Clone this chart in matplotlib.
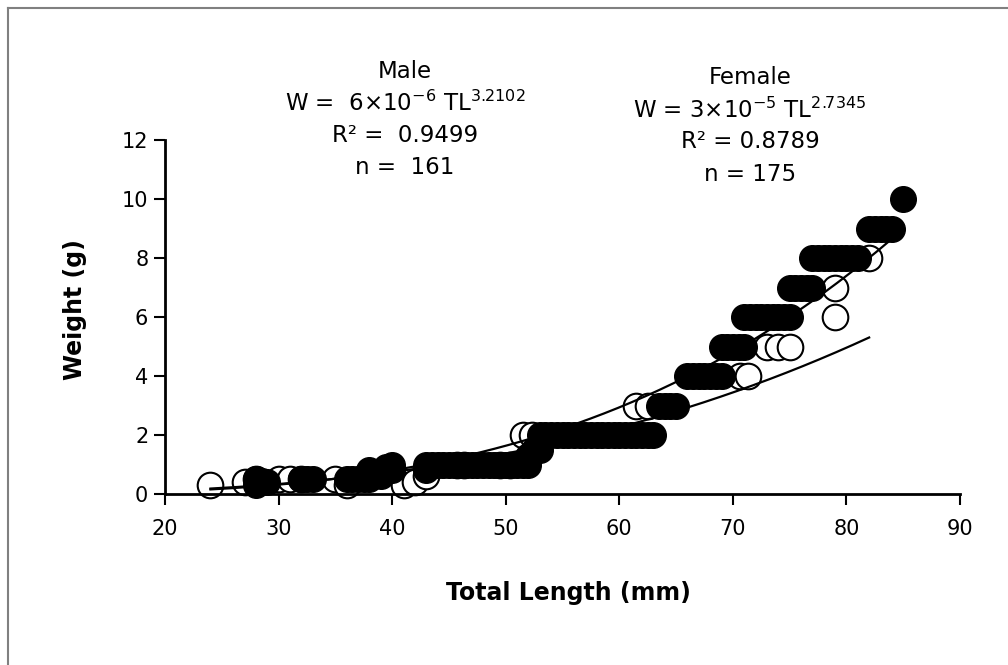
import matplotlib
matplotlib.use("Agg")
import matplotlib.pyplot as plt
from matplotlib.lines import Line2D
import numpy as np

plt.rcParams['font.family'] = ['DejaVu Sans']
plt.rcParams['mathtext.fontset'] = 'dejavusans'

# filled circles (upper curve)
filled_x = [28, 28, 28.5, 29, 32, 32.5, 33, 36, 36.5, 37, 37.5, 38, 38, 39, 39.5, 40, 40,
            43, 43, 43.5, 44, 44.5, 45, 45.5, 46, 46.5, 47, 47.5, 48, 48.5, 49, 49.5,
            50, 50.5, 51, 51.5, 52, 52, 52.5, 53,
            53, 53.5, 54, 54.5, 55, 55.5, 56, 56.5, 57, 57.5, 58, 58.5, 59, 59.5,
            60, 60.5, 61, 61.5, 62, 62.5, 63,
            63.5, 64, 64.5, 65,
            66, 66.5, 67, 67.5, 68, 68.5, 69,
            69, 69.5, 70, 70.5, 71,
            71, 71.5, 72, 72.5, 73, 73.5, 74, 74.5, 75,
            75, 75.5, 76, 76.5, 77,
            77, 77.5, 78, 78.5, 79, 79.5, 80, 80.5, 81,
            82, 82.5, 83, 83.5, 84,
            85]
filled_y = [0.3, 0.5, 0.45, 0.4, 0.5, 0.5, 0.5, 0.5, 0.5, 0.5, 0.5, 0.5, 0.8, 0.6, 0.9, 1.0, 0.8,
            0.8, 1, 1, 1, 1, 1, 1, 1, 1, 1, 1, 1, 1, 1, 1,
            1, 1, 1, 1, 1, 1.3, 1.5, 1.5,
            2, 2, 2, 2, 2, 2, 2, 2, 2, 2, 2, 2, 2, 2,
            2, 2, 2, 2, 2, 2, 2,
            3, 3, 3, 3,
            4, 4, 4, 4, 4, 4, 4,
            5, 5, 5, 5, 5,
            6, 6, 6, 6, 6, 6, 6, 6, 6,
            7, 7, 7, 7, 7,
            8, 8, 8, 8, 8, 8, 8, 8, 8,
            9, 9, 9, 9, 9,
            10]

# open circles (lower curve)
open_x = [24, 27, 28, 30, 31, 32, 35, 36, 41, 42, 43,
          45.7, 46.3, 49.5, 50.4, 51.5, 52.3, 61.5, 62.5,
          70.6, 71.3, 73, 74, 75, 79, 79, 82]
open_y = [0.3, 0.4, 0.5, 0.5, 0.5, 0.5, 0.5, 0.3, 0.3, 0.4, 0.6,
          1, 1, 1, 1, 2, 2, 3, 3,
          4, 4, 5, 5, 5, 6, 7, 8]

# power fits W = a * TL^b
male_a, male_b, male_range = 5.75e-6, 3.2102, (24, 84)
female_a, female_b, female_range = 3.1e-5, 2.7345, (24, 82)

W, H = 1008, 665
fig = plt.figure(figsize=(W / 100, H / 100), dpi=100)
ax = fig.add_axes([165 / W, 1 - 494 / H, (960 - 165) / W, (494 - 140) / H])

ax.scatter(open_x, open_y, s=340, facecolor='white', edgecolor='black',
           linewidth=1.5, zorder=2, clip_on=False)

for a, b, (x0, x1) in [(male_a, male_b, male_range), (female_a, female_b, female_range)]:
    xx = np.linspace(x0, x1, 200)
    ax.plot(xx, a * xx ** b, color='black', lw=1.6, zorder=3)

ax.scatter(filled_x, filled_y, s=340, facecolor='black', edgecolor='black',
           linewidth=1.0, zorder=4, clip_on=False)

ax.set_xlim(20, 90)
ax.set_ylim(0, 12)
ax.set_xticks(range(20, 91, 10))
ax.set_yticks(range(0, 13, 2))
ax.tick_params(direction='out', length=8, width=1.5, labelsize=15, pad=4)
ax.tick_params(axis='x', pad=10)
for s in ['top', 'right']:
    ax.spines[s].set_visible(False)
for s in ['left', 'bottom']:
    ax.spines[s].set_linewidth(2)
    ax.spines[s].set_zorder(5)

fig.text(75 / W, 1 - 310 / H, 'Weight (g)', rotation=90, ha='center', va='center',
         fontsize=17, fontweight='bold')
fig.text(568 / W, 1 - 593 / H, 'Total Length (mm)', ha='center', va='center',
         fontsize=17, fontweight='bold')

male_lines = ['Male', 'W =  6×10$^{-6}$ TL$^{3.2102}$',
              'R² =  0.9499', 'n =  161']
female_lines = ['Female', 'W = 3×10$^{-5}$ TL$^{2.7345}$',
                'R² = 0.8789', 'n = 175']
for txt, yy in zip(male_lines, [72, 103, 136, 168]):
    fig.text(405 / W, 1 - yy / H, txt, ha='center', va='center', fontsize=16.5)
for txt, yy in zip(female_lines, [78, 110, 142, 175]):
    fig.text(750 / W, 1 - yy / H, txt, ha='center', va='center', fontsize=16.5)

# outer frame
fig.add_artist(Line2D([8 / W, 8 / W], [0, 1 - 8 / H], color='#808080', lw=1.5))
fig.add_artist(Line2D([8 / W, 1], [1 - 8 / H, 1 - 8 / H], color='#808080', lw=1.5))

fig.savefig('out.png', dpi=100)
